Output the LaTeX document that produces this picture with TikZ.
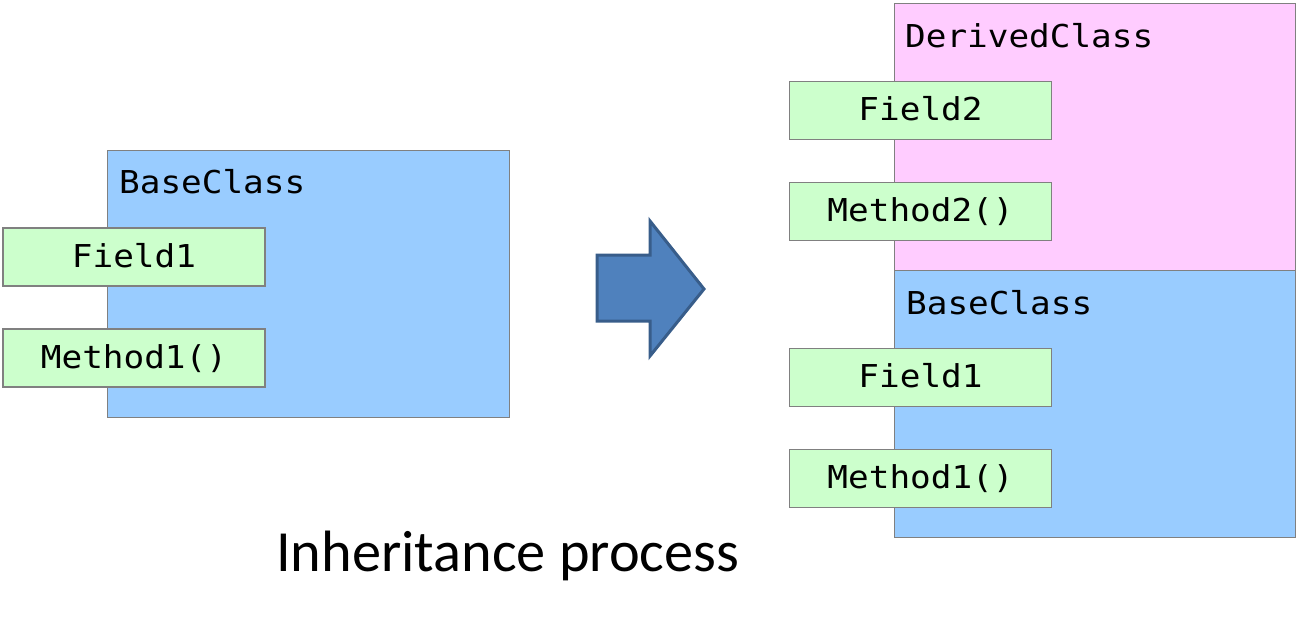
\documentclass[tikz,border=0pt]{standalone}
\usepackage{fontspec}
\setmainfont{Carlito}
\newfontfamily\codefont[FakeStretch=1.09]{DejaVu Sans Mono}
\definecolor{classblue}{HTML}{99CCFF}
\definecolor{classpink}{HTML}{FFCCFF}
\definecolor{membergreen}{HTML}{CCFFCC}
\definecolor{edgegray}{HTML}{808080}
\definecolor{arrowfill}{HTML}{4F81BD}
\definecolor{arrowedge}{HTML}{385D8A}
\begin{document}
\begin{tikzpicture}[x=1pt,y=-1pt,
  classbox/.style={draw=edgegray,line width=1.2pt,rectangle,inner sep=0pt,anchor=north west},
  member/.style={draw=edgegray,line width=1.2pt,fill=membergreen,rectangle,inner sep=0pt,
     minimum width=262pt,minimum height=58pt,text height=23pt,text depth=3pt,
     font=\codefont\fontsize{31.5pt}{36pt}\selectfont},
  classlabel/.style={anchor=base west,inner sep=0pt,font=\codefont\fontsize{31.5pt}{36pt}\selectfont}]
\useasboundingbox (0,0) rectangle (1300,622);
% left base class
\node[classbox,fill=classblue,minimum width=402pt,minimum height=267pt] (lbase) at (107,150) {};
\node[classlabel] (lbasetxt) at (119,193) {BaseClass};
\node[member] (lf1) at (134,257) {Field1};
\node[member] (lm1) at (134,358) {Method1()};
% arrow
\draw[fill=arrowfill,draw=arrowedge,line width=3pt,line join=miter]
  (597,255) -- (650,255) -- (650,221) -- (704,289) -- (650,356) -- (650,321) -- (597,321) -- cycle;
% right derived class
\node[classbox,fill=classpink,minimum width=401pt,minimum height=267pt] (rder) at (894,3) {};
\node[classbox,fill=classblue,minimum width=401pt,minimum height=267pt] (rbase) at (894,270) {};
\node[classlabel] (rdertxt) at (905,47) {DerivedClass};
\node[classlabel] (rbasetxt) at (906,314) {BaseClass};
\node[member] (rf2) at (920.5,110.5) {Field2};
\node[member] (rm2) at (920.5,211.5) {Method2()};
\node[member] (rf1) at (920.5,377.5) {Field1};
\node[member] (rm1) at (920.5,478.5) {Method1()};
% caption
\node[anchor=base west,inner sep=0pt,font=\fontsize{58.3pt}{70pt}\selectfont] (caption) at (276,571) {Inheritance process};
\end{tikzpicture}
\end{document}
